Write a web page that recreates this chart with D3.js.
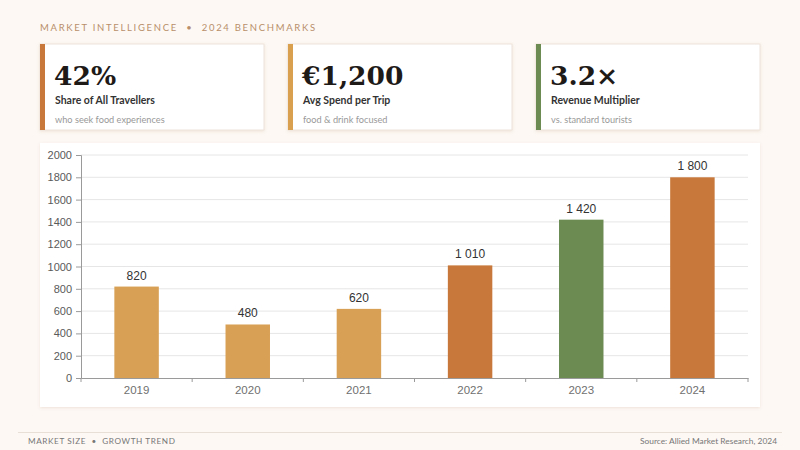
<!DOCTYPE html>
<html><head><meta charset="utf-8">
<script src="https://cdn.jsdelivr.net/npm/d3@7"></script>
<style>
html,body{margin:0;padding:0;background:#fdf8f4;}
svg{display:block;}
.pre{white-space:pre;}
</style></head>
<body>
<svg id="c" width="800" height="450"></svg>
<script>
const years = ["2019","2020","2021","2022","2023","2024"];
const marketSize = [820, 480, 620, 1010, 1420, 1800];
const barColors = ["#d8a055","#d8a055","#d8a055","#c8783a","#6b8b53","#c8783a"];
const yTicks = [0,200,400,600,800,1000,1200,1400,1600,1800,2000];
const cardValues = ["42%","€1,200","3.2×"];
const cardTitles = ["Share of All Travellers","Avg Spend per Trip","Revenue Multiplier"];
const cardSubs = ["who seek food experiences","food & drink focused","vs. standard tourists"];
const cardColors = ["#c8783a","#d9a050","#6b8b53"];

(function(){
const svg = d3.select("#c");
const defs = svg.append("defs");
const f = defs.append("filter").attr("id","sh").attr("x","-5%").attr("y","-5%").attr("width","110%").attr("height","120%");
f.append("feDropShadow").attr("dx",0).attr("dy",1).attr("stdDeviation",1.5).attr("flood-color","#b08060").attr("flood-opacity",0.18);

svg.append("rect").attr("width",800).attr("height",450).attr("fill","#fdf8f4");

svg.append("text").attr("class","pre").attr("x",40).attr("y",31)
  .attr("font-family","Lato, 'Open Sans', sans-serif").attr("font-size",9.5)
  .attr("letter-spacing","1.7px").attr("fill","#b88f6a")
  .text("MARKET INTELLIGENCE  •  2024 BENCHMARKS");

// cards
const cards = svg.selectAll("g.card").data(cardValues).join("g")
  .attr("transform",(d,i)=>`translate(${40+i*248},44)`);
cards.append("rect").attr("width",224).attr("height",86).attr("fill","#fff")
  .attr("stroke","#eee3da").attr("stroke-width",1).attr("filter","url(#sh)");
cards.append("rect").attr("width",5).attr("height",86).attr("fill",(d,i)=>cardColors[i]);
cards.append("text").attr("x",14).attr("y",41)
  .attr("font-family","'DejaVu Serif', serif").attr("font-weight","bold").attr("font-size",26.5)
  .attr("fill","#1e1a18").text(d=>d);
cards.append("text").attr("x",15).attr("y",60)
  .attr("font-family","Lato, 'Open Sans', sans-serif").attr("font-weight","bold").attr("font-size",10.5)
  .attr("fill","#333").text((d,i)=>cardTitles[i]);
cards.append("text").attr("x",15).attr("y",79)
  .attr("font-family","Lato, 'Open Sans', sans-serif").attr("font-size",9.2)
  .attr("fill","#999").text((d,i)=>cardSubs[i]);

// chart panel
svg.append("rect").attr("x",40).attr("y",143).attr("width",720).attr("height",264)
  .attr("fill","#fff").attr("filter","url(#sh)");

const pl=81, pr=748, pt=155, pb=378;
const x = d3.scaleBand().domain(years).range([pl,pr]).paddingInner(0.6).paddingOuter(0.3);
const y = d3.scaleLinear().domain([0,2000]).range([pb,pt]);

const g = svg.append("g");
g.selectAll("line.grid").data(yTicks.filter(t=>t>0)).join("line")
  .attr("x1",pl).attr("x2",pr).attr("y1",d=>y(d)).attr("y2",d=>y(d))
  .attr("stroke","#e6e6e6").attr("stroke-width",1);

g.selectAll("rect.bar").data(marketSize).join("rect")
  .attr("x",(d,i)=>x(years[i])).attr("width",x.bandwidth())
  .attr("y",d=>y(d)).attr("height",d=>pb-y(d))
  .attr("fill",(d,i)=>barColors[i]);

const fmt = d => d3.format(",")(d).replace(/,/g," ");
g.selectAll("text.val").data(marketSize).join("text")
  .attr("x",(d,i)=>x(years[i])+x.bandwidth()/2).attr("y",d=>y(d)-7)
  .attr("text-anchor","middle").attr("font-family","'Liberation Sans', Arial, sans-serif")
  .attr("font-size",12).attr("fill","#333").text(fmt);

// y axis
const ya = g.append("g").attr("transform",`translate(${pl},0)`)
  .call(d3.axisLeft(y).tickValues(yTicks).tickSize(5).tickPadding(4).tickFormat(d=>String(d)));
ya.select(".domain").attr("stroke","#9a9a9a");
ya.selectAll(".tick line").attr("stroke","#9a9a9a");
ya.selectAll(".tick text").attr("font-family","'Liberation Sans', Arial, sans-serif").attr("font-size",11).attr("fill","#5a5a5a");

// x axis
const xa = g.append("g").attr("transform",`translate(0,${pb})`)
  .call(d3.axisBottom(x).tickSize(0).tickPadding(8).tickSizeOuter(0));
xa.select(".domain").attr("stroke","#9a9a9a");
xa.selectAll(".tick text").attr("font-family","'Liberation Sans', Arial, sans-serif").attr("font-size",11.5).attr("fill","#707070");
const bounds = years.map(yr=>x(yr)-x.step()*x.paddingInner()/2 - (yr===years[0]? x.step()*(x.paddingOuter()-x.paddingInner()/2):0)).concat([pr]);
xa.selectAll("line.sep").data(bounds).join("line")
  .attr("x1",d=>d).attr("x2",d=>d).attr("y1",0).attr("y2",4).attr("stroke","#9a9a9a");

// footer
svg.append("line").attr("x1",18).attr("x2",782).attr("y1",432.5).attr("y2",432.5).attr("stroke","#e8dfd6");
svg.append("text").attr("class","pre").attr("x",28).attr("y",444)
  .attr("font-family","Lato, 'Open Sans', sans-serif").attr("font-size",8.2).attr("letter-spacing","0.6px")
  .attr("fill","#777").text("MARKET SIZE  •  GROWTH TREND");
svg.append("text").attr("x",777).attr("y",444).attr("text-anchor","end")
  .attr("font-family","Lato, 'Open Sans', sans-serif").attr("font-size",8.4)
  .attr("fill","#777").text("Source: Allied Market Research, 2024");
})();
</script>
</body></html>
